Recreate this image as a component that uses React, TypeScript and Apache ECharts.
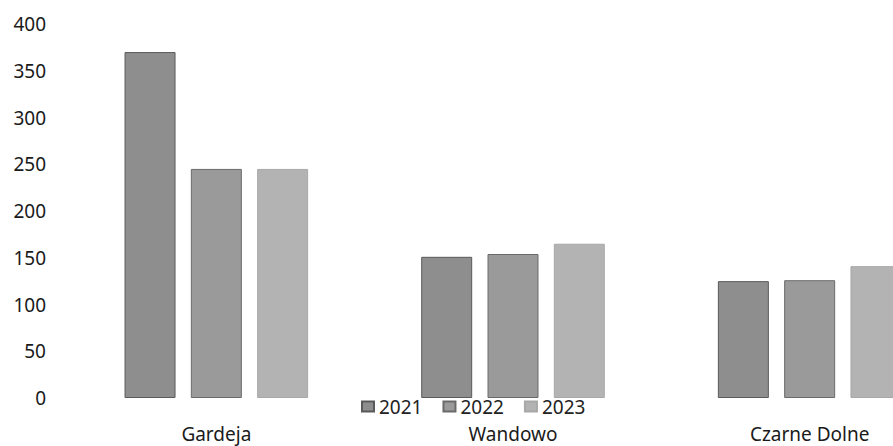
import React, { useEffect, useRef } from "react";
import * as echarts from "echarts";

const categories = ["Gardeja", "Wandowo", "Czarne Dolne"];
const years = ["2021", "2022", "2023"];
const values2021 = [370, 151, 125];
const values2022 = [245, 154, 126];
const values2023 = [245, 165, 141];
const yTicks = [0, 50, 100, 150, 200, 250, 300, 350, 400];

const colors = ["#8e8e8e", "#9a9a9a", "#b3b3b3"];
const borders = ["#5a5a5a", "#6a6a6a", "#a8a8a8"];
const FONT = "Noto Sans";

export default function App() {
  const ref = useRef<HTMLDivElement>(null);
  useEffect(() => {
    if (!ref.current) return;
    const chart = echarts.init(ref.current, undefined, { renderer: "svg" });
    const seriesData = [values2021, values2022, values2023];
    chart.setOption({
      animation: false,
      backgroundColor: "#ffffff",
      grid: { left: 68, right: 42, top: 24, bottom: 48, containLabel: false },
      legend: {
        data: years,
        left: 361,
        top: 397,
        padding: 0,
        itemWidth: 12,
        itemHeight: 10,
        itemGap: 20,
        icon: "rect",
        textStyle: { fontFamily: FONT, fontSize: 19, color: "#222", lineHeight: 19 },
      },
      xAxis: {
        type: "category",
        data: categories,
        axisLine: { show: false },
        axisTick: { show: false },
        axisLabel: { fontFamily: FONT, fontSize: 19, color: "#1a1a1a", margin: 26, lineHeight: 19 },
      },
      yAxis: {
        type: "value",
        min: yTicks[0],
        max: yTicks[yTicks.length - 1],
        interval: 50,
        axisLine: { show: false },
        axisTick: { show: false },
        splitLine: { show: false },
        axisLabel: { fontFamily: FONT, fontSize: 19, color: "#1a1a1a", margin: 22 },
      },
      series: years.map((y, i) => ({
        name: y,
        type: "bar",
        data: seriesData[i],
        barWidth: 51,
        barGap: "30%",
        itemStyle: { color: colors[i], borderColor: borders[i], borderWidth: 1 },
      })),
    });
    return () => chart.dispose();
  }, []);
  return (
    <div style={{ position: "fixed", left: 0, top: 0, width: 893, height: 446, overflow: "hidden", background: "#fff" }}>
      <div ref={ref} style={{ width: 1000, height: 446 }} />
    </div>
  );
}
